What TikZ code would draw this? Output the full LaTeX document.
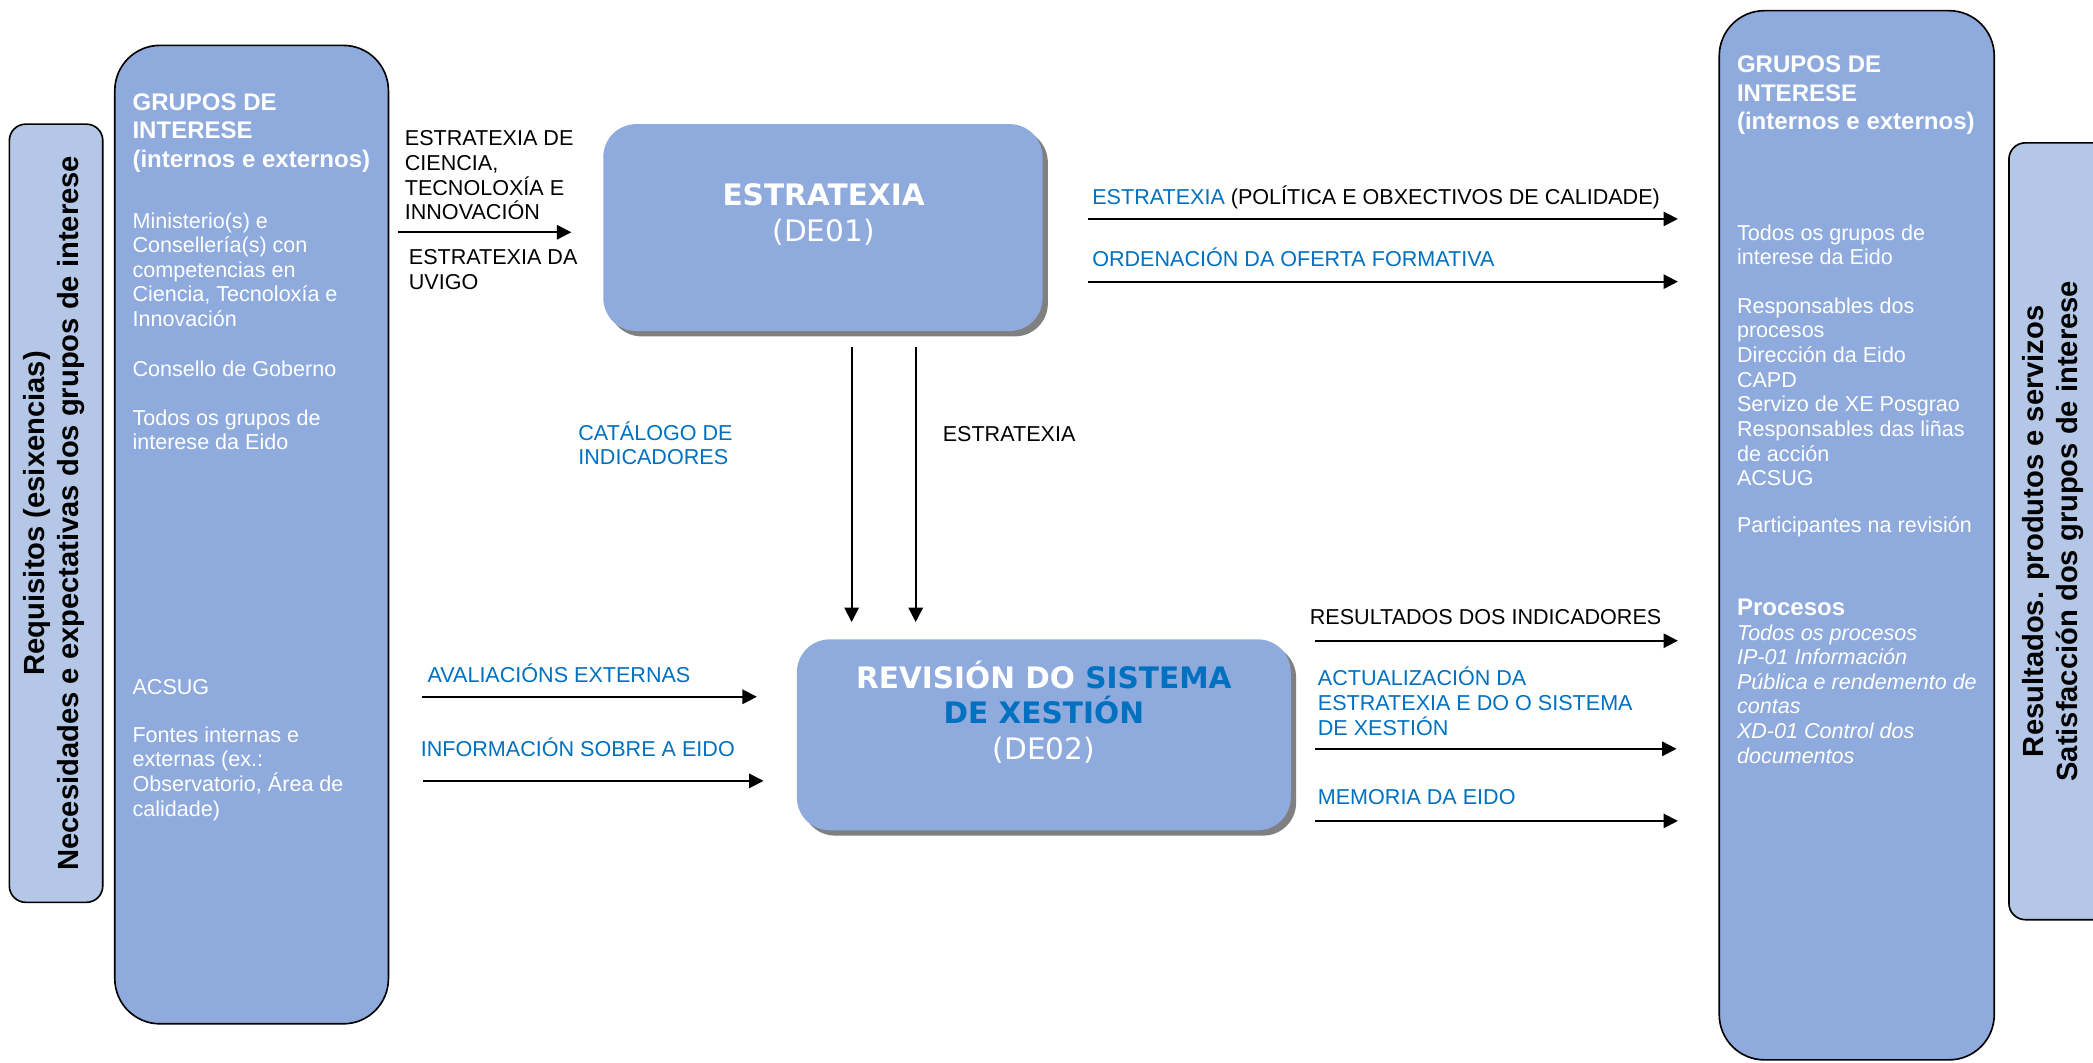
\documentclass[tikz,border=0pt]{standalone}
\usepackage{fontspec}
\setmainfont{Liberation Sans}
\newfontfamily\verd{DejaVu Sans}
\usetikzlibrary{arrows.meta}

\definecolor{caixa}{HTML}{8FAADC}
\definecolor{lateral}{HTML}{B4C7E7}
\definecolor{azul}{HTML}{0070C0}
\definecolor{sombra}{HTML}{808080}

\begin{document}
\begin{tikzpicture}[x=0.65pt,y=-0.65pt,>={Triangle[length=7pt,width=7pt]},
        txt/.style={anchor=west,inner sep=0pt,align=left,font=\fontsize{10.5}{12}\selectfont},
        tit/.style={txt,text=white,font=\fontsize{11.7}{14}\selectfont\bfseries},
        lado/.style={fill=lateral,draw=black,line width=0.8pt,rounded corners=8pt},
        grupo/.style={fill=caixa,draw=black,line width=0.8pt,rounded corners=22pt},
        proc/.style={fill=caixa,rounded corners=16pt},
        vert/.style={rotate=90,align=center,inner sep=0pt,font=\fontsize{14.2}{16.3}\selectfont\bfseries},
        caixatxt/.style={align=center,inner sep=0pt,text=white,font=\fontsize{14.4}{17.3}\selectfont\verd},
        fluxo/.style={->,line width=0.9pt}]
        \useasboundingbox (0,0) rectangle (1568,796);

        % laterais
        \draw [lado] (7,93) rectangle (77,676);
        \node [vert] (req) at (40.5,384.5) {Requisitos (esixencias)\\Necesidades e expectativas dos grupos de interese};
        \draw [lado] (1505,107) rectangle (1600,689);
        \node [vert] (res) at (1538,398) {Resultados. produtos e servizos\\Satisfacción dos grupos de interese};

        % grupos de interese
        \draw [grupo] (86,34) rectangle (291,767);
        \node [tit] (grpL) at (99,99.7) {GRUPOS DE\\INTERESE\\(internos e externos)};
        \node [txt,text=white] (minis) at (99,202) {Ministerio(s) e\\Consellería(s) con\\competencias en\\Ciencia, Tecnoloxía e\\Innovación};
        \node [txt,text=white] (consello) at (99,276) {Consello de Goberno};
        \node [txt,text=white] (todosL) at (99,322) {Todos os grupos de\\interese da Eido};
        \node [txt,text=white] (acsugL) at (99,515) {ACSUG};
        \node [txt,text=white] (fontes) at (99,579.5) {Fontes internas e\\externas (ex.:\\Observatorio, Área de\\calidade)};

        \draw [grupo] (1288,8) rectangle (1494,794);
        \node [tit] (grpR) at (1301,71.3) {GRUPOS DE\\INTERESE\\(internos e externos)};
        \node [txt,text=white] (todosR) at (1301,183.5) {Todos os grupos de\\interese da Eido};
        \node [txt,text=white] (resp) at (1301,293.5) {Responsables dos\\procesos\\Dirección da Eido\\CAPD\\Servizo de XE Posgrao\\Responsables das liñas\\de acción\\ACSUG};
        \node [txt,text=white] (partic) at (1301,395) {Participantes na revisión};
        \node [txt,text=white] (procs) at (1301,510.3) {{\fontsize{11.7}{12}\selectfont\bfseries Procesos}\\\textit{Todos os procesos}\\\textit{IP-01 Información}\\\textit{Pública e rendemento de}\\\textit{contas}\\\textit{XD-01 Control dos}\\\textit{documentos}};

        % DE01
        \fill [sombra,rounded corners=16pt] (456,97) rectangle (785,252);
        \fill [proc] (452,93) rectangle (781,248);
        \node [caixatxt] (de01) at (617,160.5) {{\bfseries ESTRATEXIA}\\(DE01)};

        % DE02
        \fill [sombra,rounded corners=16pt] (601,483) rectangle (971,626);
        \fill [proc] (597,479) rectangle (967,622);
        \node [caixatxt] (de02) at (782,533.3) {{\bfseries REVISIÓN DO \textcolor{azul}{SISTEMA}}\\{\bfseries\color{azul}DE XESTIÓN}\\(DE02)};

        % entradas
        \node [txt] (cti) at (303,131.3) {ESTRATEXIA DE\\CIENCIA,\\TECNOLOXÍA E\\INNOVACIÓN};
        \node [txt] (uvigo) at (306,202) {ESTRATEXIA DA\\UVIGO};
        \coordinate (cti0) at (298,174);
        \coordinate (cti1) at (428,174);
        \draw [fluxo] (cti0) -- (cti1);

        \node [txt,text=azul] (aval) at (320,504) {AVALIACIÓNS EXTERNAS};
        \coordinate (aval0) at (316,522);
        \coordinate (aval1) at (567,522);
        \draw [fluxo] (aval0) -- (aval1);
        \node [txt,text=azul] (info) at (315,560) {INFORMACIÓN SOBRE A EIDO};
        \coordinate (info0) at (317,585);
        \coordinate (info1) at (572,585);
        \draw [fluxo] (info0) -- (info1);

        % DE01 -> DE02
        \node [txt,text=azul] (catal) at (433,332) {CATÁLOGO DE\\INDICADORES};
        \node [txt] (estr) at (706,325) {ESTRATEXIA};
        \coordinate (cat0) at (638,260);
        \coordinate (cat1) at (638,466);
        \coordinate (est0) at (686,260);
        \coordinate (est1) at (686,466);
        \draw [fluxo] (cat0) -- (cat1);
        \draw [fluxo] (est0) -- (est1);

        % saidas
        \node [txt] (polit) at (818,148) {\textcolor{azul}{ESTRATEXIA} (POLÍTICA E OBXECTIVOS DE CALIDADE)};
        \coordinate (pol0) at (815,164);
        \coordinate (pol1) at (1257,164);
        \draw [fluxo] (pol0) -- (pol1);
        \node [txt,text=azul] (orden) at (818,193) {ORDENACIÓN DA OFERTA FORMATIVA};
        \coordinate (ord0) at (815,211);
        \coordinate (ord1) at (1257,211);
        \draw [fluxo] (ord0) -- (ord1);

        \node [txt] (resul) at (981,462) {RESULTADOS DOS INDICADORES};
        \coordinate (resu0) at (985,480);
        \coordinate (resu1) at (1257,480);
        \draw [fluxo] (resu0) -- (resu1);
        \node [txt,text=azul] (actual) at (987,525.3) {ACTUALIZACIÓN DA\\ESTRATEXIA E DO O SISTEMA\\DE XESTIÓN};
        \coordinate (act0) at (985,561);
        \coordinate (act1) at (1256,561);
        \draw [fluxo] (act0) -- (act1);
        \node [txt,text=azul] (memo) at (987,597) {MEMORIA DA EIDO};
        \coordinate (mem0) at (985,615);
        \coordinate (mem1) at (1257,615);
        \draw [fluxo] (mem0) -- (mem1);
    \end{tikzpicture}
\end{document}
